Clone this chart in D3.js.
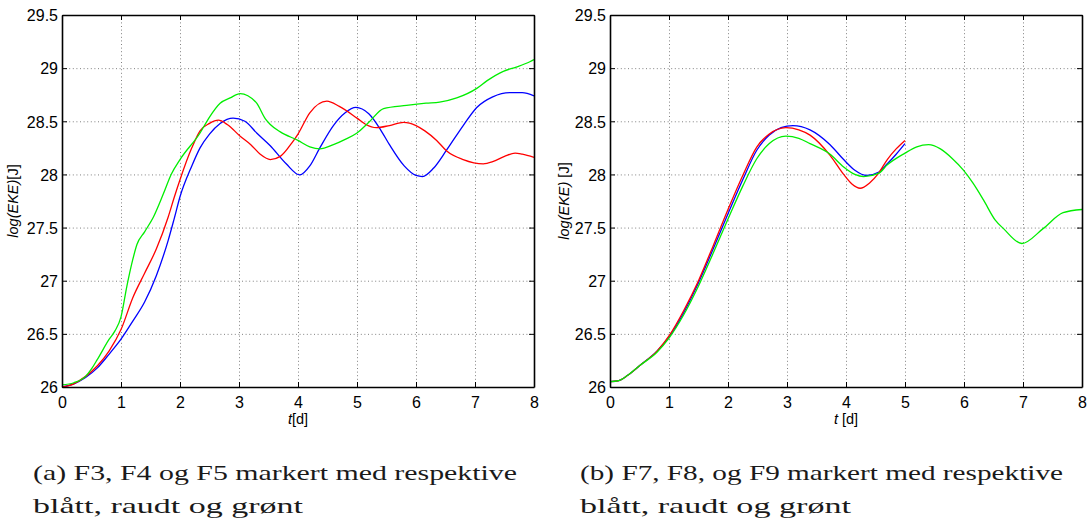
<!DOCTYPE html>
<html>
<head>
<meta charset="utf-8">
<script src="https://cdn.jsdelivr.net/npm/d3@7"></script>
<style>
  body { margin: 0; background: #fff; }
  svg { display: block; }
  .tick text { font-family: "Liberation Sans", Arial, sans-serif; font-size: 16px; fill: #000; }
  .grid line { stroke: #808080; stroke-dasharray: 1,2.6; stroke-width: 1; }
  .grid path { display: none; }
  .caption { font-family: "Times New Roman", "Liberation Serif", Times, serif; font-size: 22px; fill: #1a1a1a; }
  .alabel { font-family: "Liberation Sans", Arial, sans-serif; font-size: 14.5px; fill: #000; }
</style>
</head>
<body>
<div id="chart"></div>
<script>
// ---- data ----
const xTicks = [0, 1, 2, 3, 4, 5, 6, 7, 8];
const yTicks = [26, 26.5, 27, 27.5, 28, 28.5, 29, 29.5];
const yTickLabels = ["26", "26.5", "27", "27.5", "28", "28.5", "29", "29.5"];

// panel (a): F3 blue, F4 red, F5 green
const f3T = [0, 0.2, 0.4, 0.6, 0.8, 1.0, 1.2, 1.4, 1.6, 1.8, 1.9, 2.0, 2.2, 2.34, 2.5, 2.68, 2.9, 3.1, 3.3, 3.53, 3.8, 4.03, 4.2, 4.37, 4.6, 4.8, 4.98, 5.2, 5.4, 5.55, 5.8, 6.0, 6.11, 6.3, 6.52, 6.8, 7.03, 7.3, 7.59, 7.8, 8.0];
const f3V = [26.0, 26.03, 26.09, 26.18, 26.31, 26.45, 26.62, 26.8, 27.05, 27.38, 27.58, 27.79, 28.08, 28.25, 28.38, 28.48, 28.53, 28.5, 28.39, 28.27, 28.1, 27.995, 28.08, 28.25, 28.46, 28.58, 28.63, 28.57, 28.42, 28.28, 28.08, 27.99, 27.98, 28.06, 28.23, 28.46, 28.63, 28.73, 28.77, 28.77, 28.74];

const f4T = [0, 0.2, 0.4, 0.6, 0.8, 1.0, 1.2, 1.4, 1.6, 1.8, 1.9, 2.0, 2.2, 2.34, 2.5, 2.65, 2.8, 3.02, 3.2, 3.36, 3.53, 3.7, 3.9, 4.0, 4.2, 4.49, 4.7, 5.0, 5.15, 5.33, 5.55, 5.79, 6.0, 6.15, 6.35, 6.52, 6.8, 7.14, 7.3, 7.5, 7.68, 7.8, 8.0];
const f4V = [26.0, 26.03, 26.1, 26.2, 26.34, 26.54, 26.84, 27.07, 27.3, 27.6, 27.78, 27.95, 28.25, 28.41, 28.48, 28.51, 28.47, 28.36, 28.28, 28.19, 28.14, 28.17, 28.3, 28.38, 28.58, 28.69, 28.64, 28.53, 28.47, 28.44, 28.46, 28.49, 28.46, 28.41, 28.32, 28.22, 28.14, 28.1, 28.12, 28.17, 28.2, 28.19, 28.16];

const f5T = [0, 0.2, 0.4, 0.5, 0.6, 0.8, 0.9, 1.0, 1.1, 1.2, 1.27, 1.4, 1.55, 1.72, 1.85, 2.0, 2.34, 2.5, 2.68, 2.85, 3.02, 3.15, 3.3, 3.45, 3.53, 3.7, 4.0, 4.2, 4.37, 4.6, 4.8, 5.0, 5.2, 5.45, 5.84, 6.17, 6.4, 6.69, 7.03, 7.2, 7.48, 7.7, 7.93, 8.0];
const f5V = [26.02, 26.04, 26.1, 26.17, 26.26, 26.45, 26.53, 26.66, 26.95, 27.2, 27.34, 27.46, 27.6, 27.82, 28.0, 28.14, 28.39, 28.54, 28.67, 28.72, 28.76, 28.74, 28.67, 28.52, 28.47, 28.4, 28.32, 28.26, 28.24, 28.28, 28.33, 28.39, 28.49, 28.62, 28.65, 28.67, 28.68, 28.72, 28.81, 28.88, 28.97, 29.01, 29.06, 29.08];

// panel (b): F7 blue, F8 red, F9 green
const f7T = [0, 0.15, 0.3, 0.5, 0.8, 1.0, 1.25, 1.5, 1.75, 2.0, 2.25, 2.49, 2.7, 2.9, 3.1, 3.39, 3.73, 3.96, 4.15, 4.35, 4.55, 4.7, 4.85, 5.0];
const f7V = [26.05, 26.06, 26.11, 26.2, 26.34, 26.47, 26.7, 26.98, 27.3, 27.63, 27.95, 28.23, 28.37, 28.44, 28.46, 28.42, 28.28, 28.14, 28.04, 27.99, 28.02, 28.1, 28.19, 28.29];

const f8T = [0, 0.15, 0.3, 0.5, 0.8, 1.0, 1.25, 1.5, 1.75, 2.0, 2.25, 2.49, 2.7, 2.98, 3.2, 3.39, 3.73, 3.96, 4.1, 4.24, 4.4, 4.55, 4.7, 4.85, 5.0];
const f8V = [26.05, 26.06, 26.11, 26.2, 26.34, 26.48, 26.72, 27.0, 27.33, 27.67, 27.99, 28.26, 28.38, 28.44, 28.42, 28.37, 28.18, 28.0, 27.91, 27.87, 27.92, 28.01, 28.14, 28.24, 28.32];

const f9T = [0, 0.15, 0.3, 0.5, 0.8, 1.0, 1.25, 1.5, 1.75, 2.0, 2.25, 2.49, 2.7, 2.98, 3.2, 3.39, 3.73, 3.96, 4.15, 4.3, 4.55, 4.7, 5.0, 5.2, 5.4, 5.6, 5.8, 5.99, 6.15, 6.33, 6.53, 6.67, 6.98, 7.34, 7.68, 8.0];
const f9V = [26.05, 26.06, 26.11, 26.2, 26.33, 26.46, 26.68, 26.95, 27.26, 27.58, 27.89, 28.15, 28.29, 28.36, 28.34, 28.29, 28.19, 28.07, 28.0, 27.98, 28.01, 28.09, 28.2, 28.26, 28.28, 28.24, 28.15, 28.04, 27.92, 27.76, 27.57, 27.49, 27.35, 27.49, 27.64, 27.67];

const captionsA = ["(a) F3, F4 og F5 markert med respektive", "blått, raudt og grønt"];
const captionsB = ["(b) F7, F8, og F9 markert med respektive", "blått, raudt og grønt"];

const W = 1088, H = 521;

const svg = d3.select("#chart").append("svg")
  .attr("width", W)
  .attr("height", H);

function zip(ts, vs){ return ts.map((t, i) => [t, vs[i]]); }

function drawPanel(opts){
  const left = opts.left, top = 15, w = 472, h = 372;
  const x = d3.scaleLinear().domain([0, 8]).range([0, w]);
  const y = d3.scaleLinear().domain([26, 29.5]).range([h, 0]);

  const g = svg.append("g").attr("transform", `translate(${left},${top})`);

  // dotted grid
  g.append("g").attr("class", "grid")
    .attr("transform", `translate(0,${h})`)
    .call(d3.axisBottom(x).tickValues(xTicks.slice(1, -1)).tickSize(-h).tickFormat(""));
  g.append("g").attr("class", "grid")
    .call(d3.axisLeft(y).tickValues(yTicks.slice(1, -1)).tickSize(-w).tickFormat(""));

  // curves
  const line = d3.line()
    .x(d => x(d[0]))
    .y(d => y(d[1]))
    .curve(d3.curveMonotoneX);

  opts.series.forEach(s => {
    g.append("path")
      .datum(zip(s.t, s.v))
      .attr("fill", "none")
      .attr("stroke", s.color)
      .attr("stroke-width", 1.3)
      .attr("d", line);
  });

  // axes with inward ticks (box on all sides)
  const xa = g.append("g").attr("transform", `translate(0,${h})`)
    .call(d3.axisBottom(x).tickValues(xTicks).tickSize(-5).tickSizeOuter(0).tickPadding(12));
  const ya = g.append("g")
    .call(d3.axisLeft(y).tickValues(yTicks).tickFormat((d, i) => yTickLabels[i]).tickSize(-5).tickSizeOuter(0).tickPadding(4));
  g.append("g")
    .call(d3.axisTop(x).tickValues(xTicks).tickSize(-5).tickSizeOuter(0).tickFormat(""));
  g.append("g").attr("transform", `translate(${w},0)`)
    .call(d3.axisRight(y).tickValues(yTicks).tickSize(-5).tickSizeOuter(0).tickFormat(""));

  g.selectAll(".domain").attr("stroke", "#000").attr("stroke-width", 1.6);
  g.selectAll(".tick line").filter(function(){ return !this.closest(".grid"); }).attr("stroke", "#000");
  xa.selectAll(".tick text").attr("dy", "0.55em");
  ya.selectAll(".tick text").attr("dy", "0.36em");

  // x label
  const xl = g.append("text").attr("class", "alabel")
    .attr("x", w / 2).attr("y", h + 37)
    .attr("text-anchor", "middle");
  xl.append("tspan").attr("font-style", "italic").text("t");
  xl.append("tspan").text(opts.xUnit);

  // y label
  const yl = g.append("text").attr("class", "alabel")
    .attr("transform", `translate(${opts.yLabelX},${h / 2}) rotate(-90)`)
    .attr("text-anchor", "middle");
  yl.append("tspan").attr("font-style", "italic").text("log(EKE)");
  yl.append("tspan").text(opts.yUnit);

  // caption
  opts.caption.forEach((c, i) => {
    svg.append("text").attr("class", "caption")
      .attr("x", opts.capX).attr("y", 480 + i * 33)
      .attr("textLength", opts.capLen[i])
      .attr("lengthAdjust", "spacingAndGlyphs")
      .text(c);
  });
}

drawPanel({
  left: 62,
  yLabelX: -44,
  xUnit: "[d]",
  yUnit: "[J]",
  capX: 33,
  capLen: [484, 270],
  caption: captionsA,
  series: [
    { t: f3T, v: f3V, color: "#0000ff" },
    { t: f4T, v: f4V, color: "#ff0000" },
    { t: f5T, v: f5V, color: "#00ee00" }
  ]
});

drawPanel({
  left: 610,
  yLabelX: -41,
  xUnit: " [d]",
  yUnit: " [J]",
  capX: 580,
  capLen: [483, 271],
  caption: captionsB,
  series: [
    { t: f7T, v: f7V, color: "#0000ff" },
    { t: f8T, v: f8V, color: "#ff0000" },
    { t: f9T, v: f9V, color: "#00ee00" }
  ]
});
</script>
</body>
</html>
